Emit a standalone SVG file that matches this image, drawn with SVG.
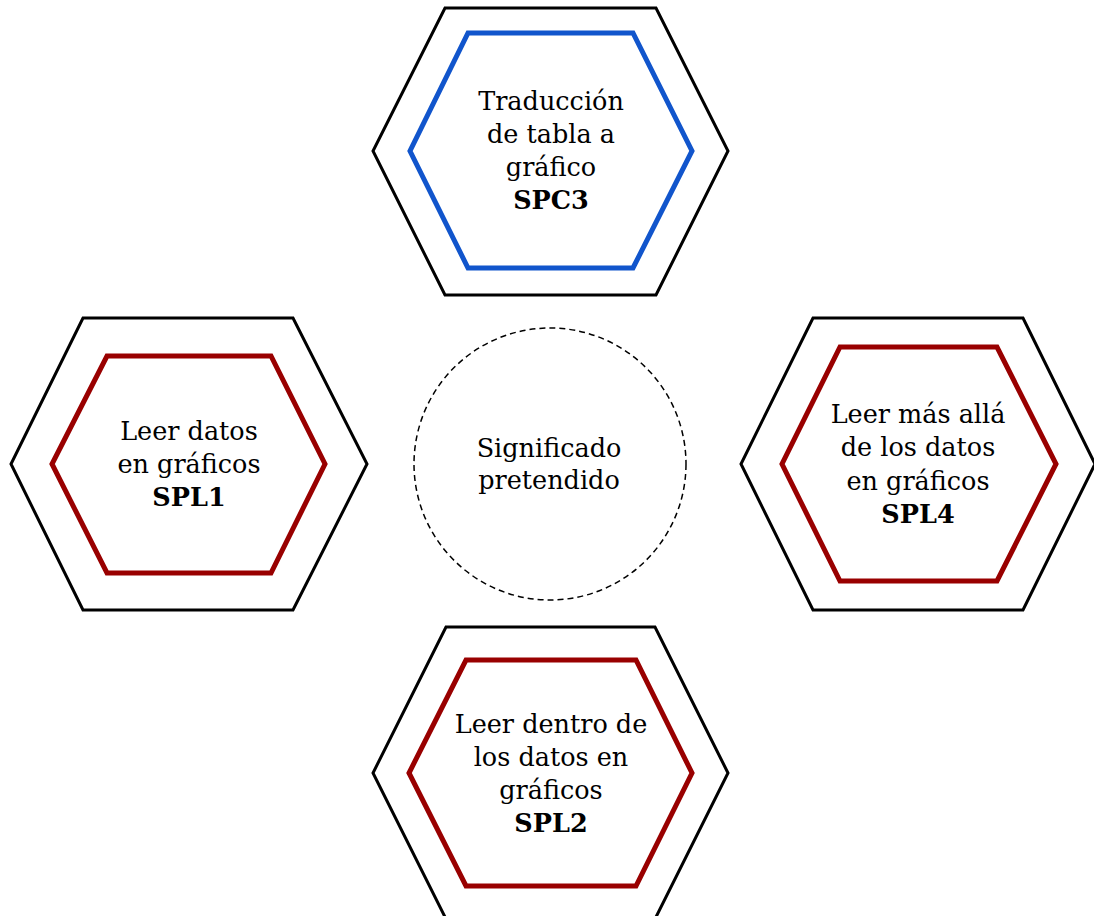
<svg xmlns="http://www.w3.org/2000/svg" width="1094" height="916" viewBox="0 0 1094 916">
<style>
.outer{fill:none;stroke:#000;stroke-width:3;stroke-linejoin:miter}
.red{fill:none;stroke:#990000;stroke-width:5}
.blue{fill:none;stroke:#1155cc;stroke-width:5}
.circ{fill:none;stroke:#000;stroke-width:1.5;stroke-dasharray:6 4}
text{font-family:"DejaVu Serif","Liberation Serif",serif;font-size:25.5px;fill:#000;text-anchor:middle}
.b{font-weight:bold}
</style>
<rect width="1094" height="916" fill="#fff"/>
<g id="connectors"/>
<g id="center">
<circle class="circ" cx="550" cy="464" r="136"/>
<text x="549" y="457">Significado</text>
<text x="549" y="489">pretendido</text>
</g>
<g id="spc3">
<polygon class="outer" points="445,8 656,8 728,151 656,295 445,295 373,151"/>
<polygon class="blue" points="468,33 633,33 692,151 633,268 468,268 410,151"/>
<text x="551" y="110">Traducción</text>
<text x="551" y="143">de tabla a</text>
<text x="551" y="176">gráfico</text>
<text x="551" y="209" class="b">SPC3</text>
</g>
<g id="spl1">
<polygon class="outer" points="83,318 293,318 367,464 293,610 83,610 11,464"/>
<polygon class="red" points="107,356 271,356 325,464 271,573 107,573 52,464"/>
<text x="189" y="440">Leer datos</text>
<text x="189" y="473">en gráficos</text>
<text x="189" y="506" class="b">SPL1</text>
</g>
<g id="spl4">
<polygon class="outer" points="813,318 1023,318 1095,464 1023,610 813,610 741,464"/>
<polygon class="red" points="840,347 997,347 1056,464 997,581 840,581 782,464"/>
<text x="918" y="423">Leer más allá</text>
<text x="918" y="456">de los datos</text>
<text x="918" y="490">en gráficos</text>
<text x="918" y="523" class="b">SPL4</text>
</g>
<g id="spl2">
<polygon class="outer" points="446,627 655,627 728,773 655,919 446,919 373,773"/>
<polygon class="red" points="466,660 636,660 692,773 636,886 466,886 409,773"/>
<text x="551" y="733">Leer dentro de</text>
<text x="551" y="766">los datos en</text>
<text x="551" y="799">gráficos</text>
<text x="551" y="832" class="b">SPL2</text>
</g>
</svg>
